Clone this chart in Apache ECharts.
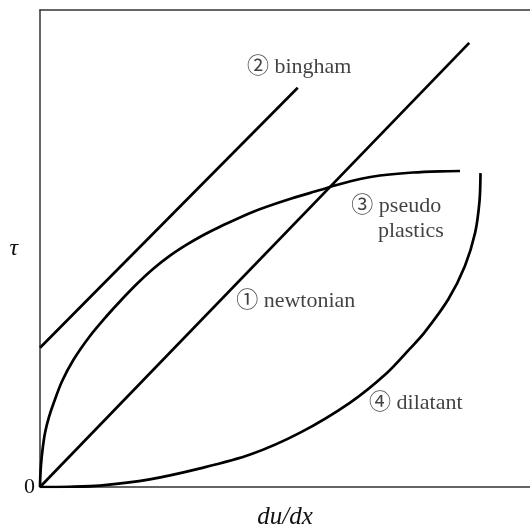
<!DOCTYPE html>
<html>
<head>
<meta charset="utf-8">
<script src="https://cdn.jsdelivr.net/npm/echarts@6/dist/echarts.min.js"></script>
<style>
  html, body { margin: 0; padding: 0; background: #fff; }
  #chart { width: 530px; height: 528px; }
</style>
</head>
<body>
<div id="chart"></div>
<script>
// values, both axes scaled 0..100
const newtonian = [[0, 0], [87.6, 93.1]];
const bingham = [[0, 29.2], [52.6, 83.7]];
const pseudo = [
  [0, 0], [0.06, 2.1], [0.2, 4.6], [0.51, 7.76], [1.02, 11.32], [1.84, 14.68],
  [2.86, 17.82], [4.43, 22.01], [6.8, 26.62], [10.2, 31.66], [13.61, 35.85],
  [16.4, 39.0], [19.8, 42.6], [23.12, 45.75], [26.53, 48.5], [29.94, 50.8],
  [33.27, 52.78], [36.73, 54.57], [43.53, 57.72], [50.35, 60.17], [57.14, 62.26],
  [60.55, 63.31], [65.31, 64.57], [69.39, 65.3], [76.12, 65.93], [81.63, 66.18],
  [85.71, 66.25]
];
const dilatant = [
  [0, 0], [6, 0.05], [12.2, 0.3], [22.4, 1.6], [32.7, 3.9], [42.9, 6.8],
  [53.1, 11.4], [63.3, 17.7], [70.8, 23.9], [75.5, 29.0], [78.4, 32.3],
  [83.3, 39.3], [86.7, 46.3], [88.8, 53.3], [89.7, 60.0], [89.9, 65.8]
];

const labelText = ['② bingham', '③ pseudo', 'plastics', '① newtonian', '④ dilatant'];
const labelX = [52.9, 72.7, 75.7, 52.2, 76.7];
const labelY = [88.1, 58.9, 53.6, 39.0, 17.6];

const serif = '"Liberation Serif", "DejaVu Serif", "Noto Sans CJK SC", serif';
const axisColor = '#333';

const chart = echarts.init(document.getElementById('chart'));

function curve(name, data, smooth) {
  return {
    name: name,
    type: 'line',
    data: data,
    smooth: smooth,
    showSymbol: false,
    symbol: 'none',
    lineStyle: { color: '#000', width: 2.7 },
    z: 3
  };
}

chart.setOption({
  animation: false,
  grid: { left: 40, right: 0, top: 10, bottom: 41, outerBoundsMode: 'none', containLabel: false },
  xAxis: [
    {
      type: 'value', min: 0, max: 100, interval: 100,
      name: 'du/dx', nameLocation: 'middle', nameGap: 18,
      nameTextStyle: { fontFamily: serif, fontStyle: 'italic', fontSize: 25, color: '#111' },
      axisLine: { show: true, lineStyle: { color: axisColor, width: 1.5 } },
      axisTick: { show: false }, axisLabel: { show: false }, splitLine: { show: false }
    },
    {
      type: 'value', position: 'top', min: 0, max: 100, interval: 100,
      axisLine: { show: true, lineStyle: { color: axisColor, width: 1.5 } },
      axisTick: { show: false }, axisLabel: { show: false }, splitLine: { show: false }
    }
  ],
  yAxis: {
    type: 'value', min: 0, max: 100, interval: 100,
    name: 'τ', nameLocation: 'middle', nameRotate: 0, nameGap: 19,
    nameTextStyle: { fontFamily: serif, fontStyle: 'italic', fontSize: 24, color: '#111' },
    axisLine: { show: true, lineStyle: { color: axisColor, width: 1.5 } },
    axisTick: { show: false }, splitLine: { show: false },
    axisLabel: {
      margin: 5, fontFamily: serif, fontSize: 22, color: '#111',
      verticalAlign: 'middle', padding: [12, 0, 0, 0],
      formatter: v => (v === 0 ? '0' : '')
    }
  },
  series: [
    curve('newtonian', newtonian, false),
    curve('bingham', bingham, false),
    curve('pseudo plastics', pseudo, 0.3),
    curve('dilatant', dilatant, 0.3),
    {
      type: 'scatter',
      data: labelX.map((x, i) => [x, labelY[i], labelText[i]]),
      symbolSize: 0,
      label: {
        show: true, position: 'inside',
        formatter: p => p.data[2],
        fontFamily: serif, fontSize: 22, color: '#111'
      },
      silent: true,
      z: 4
    }
  ]
});
</script>
</body>
</html>
